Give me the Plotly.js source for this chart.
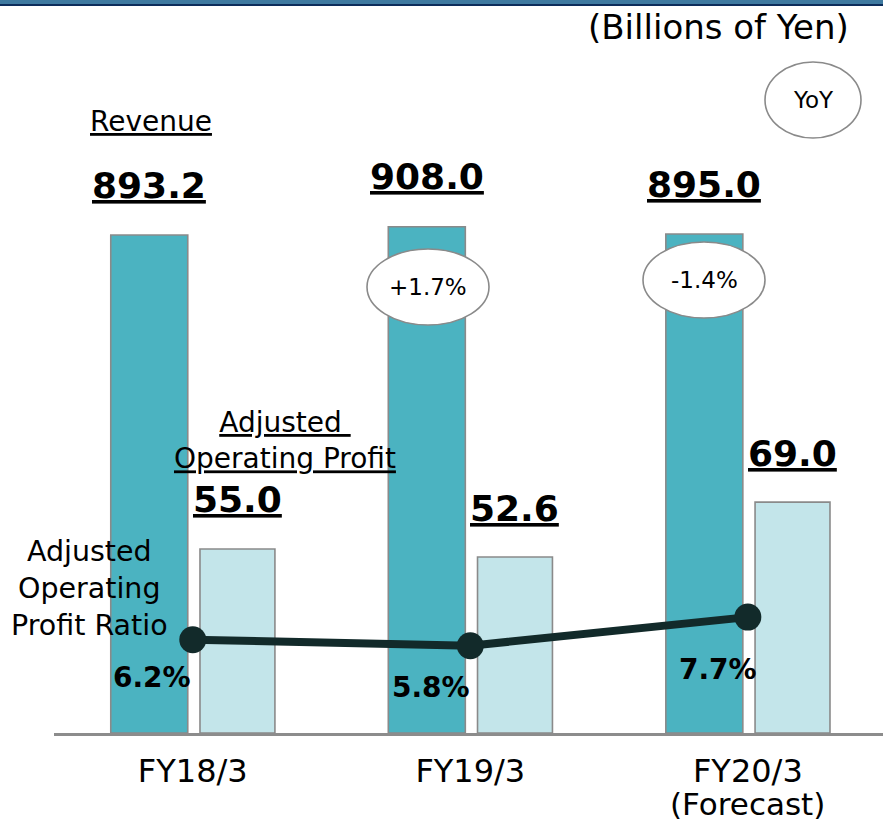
<!DOCTYPE html>
<html>
<head>
<meta charset="utf-8">
<script src="https://cdn.plot.ly/plotly-3.0.1.min.js"></script>
<style>html,body{margin:0;padding:0;background:#fff;}#chart{width:883px;height:821px;}</style>
</head>
<body>
<div id="chart"></div>
<script>
// ---- data ----
const categories = ['FY18/3', 'FY19/3', 'FY20/3'];
const tickLabels = ['FY18/3', 'FY19/3', 'FY20/3'];
const tickSubLabels = ['', '', '(Forecast)'];
const revenue = [893.2, 908.0, 895.0];
const revenueLabels = ['893.2', '908.0', '895.0'];
const profit = [55.0, 52.6, 69.0];
const profitLabels = ['55.0', '52.6', '69.0'];
const ratio = [6.2, 5.8, 7.7];
const ratioLabels = ['6.2%', '5.8%', '7.7%'];
const yoyLabels = ['+1.7%', '-1.4%'];   // FY19/3, FY20/3

// ---- layout geometry helpers (pixels -> paper) ----
const W = 883, H = 821, ML = 54, MR = 0, MT = 40, MB = 88;
const PW = W - ML - MR, PH = H - MT - MB;
const px = x => (x - ML) / PW;
const py = y => (H - MB - y) / PH;
const UNIT = PW / 2.987;

const FONT = 'DejaVu Sans, Verdana, sans-serif';
const revOffset = -0.2955, revWidth = 0.2775;
const prfOffset = 0.026, prfWidth = 0.27;

const traces = [
  {
    type: 'bar', x: categories, y: revenue, yaxis: 'y',
    offset: revOffset, width: revWidth,
    marker: {color: '#4bb3c1', line: {color: '#8a8a8a', width: 1.6}},
    hoverinfo: 'skip', showlegend: false
  },
  {
    type: 'bar', x: categories, y: profit, yaxis: 'y2',
    offset: prfOffset, width: prfWidth,
    marker: {color: '#c3e5ea', line: {color: '#8a8a8a', width: 1.6}},
    hoverinfo: 'skip', showlegend: false
  },
  {
    type: 'scatter', mode: 'lines+markers', x: categories, y: ratio, yaxis: 'y3',
    line: {color: '#122a2a', width: 8},
    marker: {color: '#122a2a', size: 27},
    hoverinfo: 'skip', showlegend: false
  }
];

const annotations = [];
categories.forEach((c, i) => {
  annotations.push({
    xref: 'x', yref: 'y', x: c, y: revenue[i], xanchor: 'center', yanchor: 'middle',
    xshift: (revOffset + revWidth / 2) * UNIT,
    yshift: 50, text: '<b><u>' + revenueLabels[i] + '</u></b>', showarrow: false,
    font: {family: FONT, size: 36, color: '#000'}
  });
  annotations.push({
    xref: 'x', yref: 'y2', x: c, y: profit[i], xanchor: 'center', yanchor: 'middle',
    xshift: (prfOffset + prfWidth / 2) * UNIT,
    yshift: 49, text: '<b><u>' + profitLabels[i] + '</u></b>', showarrow: false,
    font: {family: FONT, size: 36, color: '#000'}
  });
  if (tickSubLabels[i]) {
    annotations.push({
      xref: 'x', yref: 'paper', x: c, y: py(804), xanchor: 'center', yanchor: 'middle',
      text: tickSubLabels[i], showarrow: false,
      font: {family: FONT, size: 31, color: '#000'}
    });
  }
});
const ratioShift = [[-41, -38], [-39, -42], [-30, -52]];
categories.forEach((c, i) => {
  annotations.push({
    xref: 'x', yref: 'y3', x: c, y: ratio[i], xanchor: 'center', yanchor: 'middle',
    xshift: ratioShift[i][0], yshift: ratioShift[i][1],
    text: '<b>' + ratioLabels[i] + '</b>', showarrow: false,
    font: {family: FONT, size: 28, color: '#000'}
  });
});
function paperText(x, y, text, size, extra) {
  annotations.push(Object.assign({xref: 'paper', yref: 'paper', x: px(x), y: py(y),
    xanchor: 'center', yanchor: 'middle', text: text, showarrow: false, align: 'center',
    font: {family: FONT, size: size, color: '#000'}}, extra || {}));
}
paperText(151, 121, '<u>Revenue</u>', 28);
paperText(285, 440, '<u>Adjusted </u><br><u>Operating Profit</u>', 28);
paperText(89, 588, 'Adjusted<br>Operating<br>Profit Ratio', 28.5);
paperText(851, 27, '(Billions of Yen)', 34, {xanchor: 'right'});

const bubbles = [
  {cx: 813, cy: 100, rx: 48, ry: 38, text: 'YoY'},
  {cx: 428, cy: 287, rx: 61, ry: 38, text: yoyLabels[0]},
  {cx: 704, cy: 280, rx: 61, ry: 38, text: yoyLabels[1]}
];
const shapes = [
  {type: 'rect', xref: 'paper', yref: 'paper', x0: px(-5), x1: px(W + 5), y0: py(4), y1: py(-5),
   fillcolor: '#3f7aa0', line: {width: 0}, layer: 'above'},
  {type: 'rect', xref: 'paper', yref: 'paper', x0: px(-5), x1: px(W + 5), y0: py(6), y1: py(4),
   fillcolor: '#0d2d5b', line: {width: 0}, layer: 'above'}
];
bubbles.forEach(b => {
  shapes.push({type: 'circle', xref: 'paper', yref: 'paper',
    x0: px(b.cx - b.rx), x1: px(b.cx + b.rx), y0: py(b.cy + b.ry), y1: py(b.cy - b.ry),
    fillcolor: '#ffffff', line: {color: '#8a8a8a', width: 1.6}, layer: 'above'});
  paperText(b.cx, b.cy, b.text, 23);
});

const layout = {
  width: W, height: H,
  margin: {l: ML, r: MR, t: MT, b: MB, pad: 0},
  paper_bgcolor: '#ffffff', plot_bgcolor: '#ffffff',
  showlegend: false,
  barmode: 'overlay',
  xaxis: {
    type: 'category', range: [-0.5, 2.487],
    tickvals: categories, ticktext: tickLabels,
    showline: true, linecolor: '#8c8c8c', linewidth: 3,
    showgrid: false, zeroline: false, ticks: '', ticklabelstandoff: 8,
    tickfont: {family: FONT, size: 32, color: '#000'}
  },
  yaxis: {range: [0, PH / 0.5575], visible: false, showgrid: false, zeroline: false},
  yaxis2: {range: [0, PH / 3.346], overlaying: 'y', visible: false, showgrid: false, zeroline: false},
  yaxis3: {range: [0, PH / 15.05], overlaying: 'y', visible: false, showgrid: false, zeroline: false},
  annotations: annotations,
  shapes: shapes
};

Plotly.newPlot('chart', traces, layout, {displayModeBar: false, staticPlot: true});
</script>
</body>
</html>
